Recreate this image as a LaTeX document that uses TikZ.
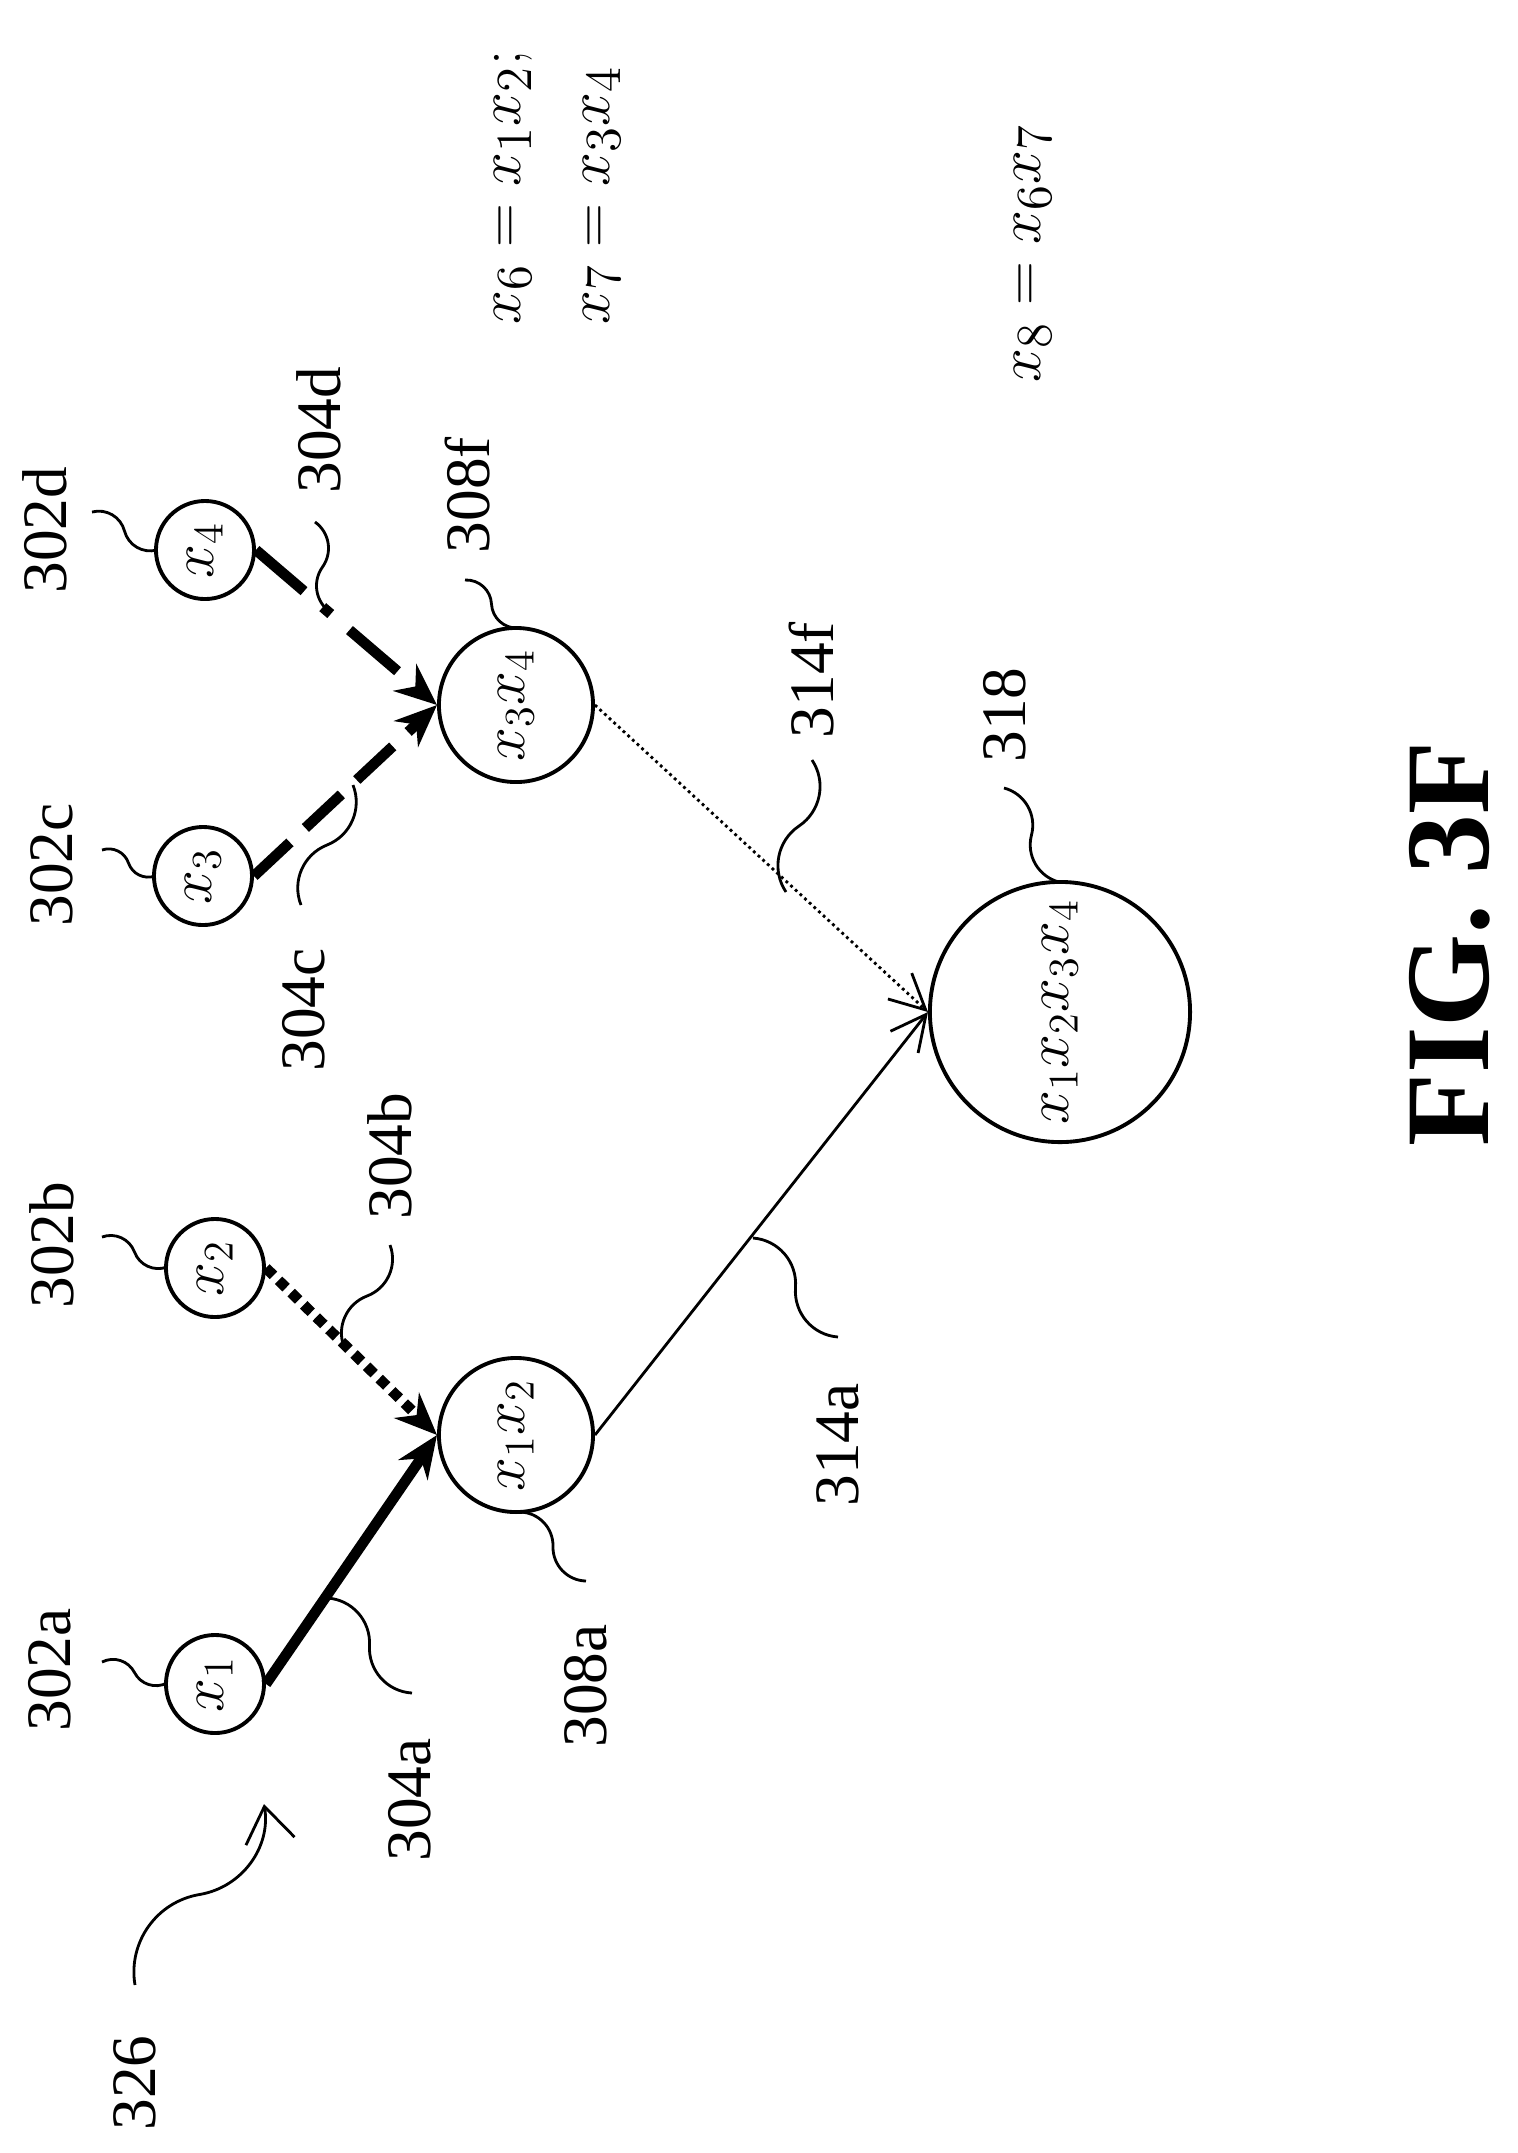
\documentclass[tikz,border=0pt]{standalone}
\usepackage{fontspec}
\setmainfont{Liberation Serif}
\usetikzlibrary{arrows.meta,calc}
\begin{document}
\begin{tikzpicture}[x=0.01cm,y=-0.01cm,
  lab/.style={rotate=90,font=\fontsize{18}{18}\selectfont,inner sep=0},
  nd/.style={draw,circle,line width=1.1pt,inner sep=0,font=\fontsize{18}{18}\selectfont},
  sm/.style={nd,minimum size=0.98cm},
  md/.style={nd,minimum size=1.54cm},
  lead/.style={line width=0.8pt},
  eq/.style={rotate=90,anchor=west,inner sep=0,font=\fontsize{19}{19}\selectfont},
  inedge/.style={line width=3pt,-{Stealth[length=12pt,width=10pt]}},
  outedge/.style={line width=0.8pt,-{Straight Barb[length=10pt,width=10pt]}}]
\useasboundingbox (0,0) rectangle (1518,2153);
\node[sm] (x1) at (215,1684) {\rotatebox{90}{$x_1$}};
\node[sm] (x2) at (215,1268) {\rotatebox{90}{$x_2$}};
\node[sm] (x3) at (203,876) {\rotatebox{90}{$x_3$}};
\node[sm] (x4) at (205,550) {\rotatebox{90}{$x_4$}};
\node[md] (x12) at (516,1435) {\rotatebox{90}{$x_1x_2$}};
\node[md] (x34) at (516,705) {\rotatebox{90}{$x_3x_4$}};
\node[nd,minimum size=2.6cm,font=\fontsize{18}{18}\selectfont] (big) at (1060,1012) {\rotatebox{90}{$x_1x_2x_3x_4$}};
\draw[inedge] (x1.east) -- (x12.west);
\draw[inedge,dotted] (x2.east) -- (x12.west);
\draw[inedge,dash pattern=on 14pt off 6pt] (x3.east) -- (x34.west);
\draw[inedge,dash pattern=on 18pt off 7pt on 3pt off 7pt] (x4.east) -- (x34.west);
\draw[outedge] (x12.east) -- (big.west);
\draw[outedge,densely dotted] (x34.east) -- (big.west);
% labels
\node[lab] (l302a) at (50,1670) {302a};
\node[lab] (l302b) at (52,1245) {302b};
\node[lab] (l302c) at (52,865) {302c};
\node[lab] (l302d) at (45,530) {302d};
\node[lab] (l304a) at (410,1800) {304a};
\node[lab] (l304b) at (390,1156) {304b};
\node[lab] (l304c) at (304,1010) {304c};
\node[lab] (l304d) at (319,430) {304d};
\node[lab] (l308a) at (586,1686) {308a};
\node[lab] (l308f) at (468,495) {308f};
\node[lab] (l314a) at (838,1445) {314a};
\node[lab] (l314f) at (812,680) {314f};
\node[lab] (l318) at (1005,715) {318};
\node[lab] (l326) at (135,2083) {326};
% leaders
\coordinate (a1) at (102,1662); \coordinate (a2) at (167,1683);
\coordinate (b1) at (102,1237); \coordinate (b2) at (167,1267);
\coordinate (c1) at (102,850); \coordinate (c2) at (155,876);
\coordinate (d1) at (92,512); \coordinate (d2) at (157,550);
\coordinate (e1) at (412,1693); \coordinate (e2) at (327,1598);
\coordinate (f1) at (390,1245); \coordinate (f2) at (344,1347);
\coordinate (g1) at (301,905); \coordinate (g2) at (353,785);
\coordinate (h1) at (315,522); \coordinate (h2) at (330,612);
\coordinate (i1) at (586,1581); \coordinate (i2) at (520,1512);
\coordinate (j1) at (465,580); \coordinate (j2) at (518,628);
\coordinate (k1) at (838,1337); \coordinate (k2) at (753,1238);
\coordinate (m1) at (812,760); \coordinate (m2) at (786,892);
\coordinate (n1) at (1004,788); \coordinate (n2) at (1059,882);
\foreach \p in {a,b,c,d,e,f,g,h,i,j,k,m,n}
  \draw[lead] (\p1) to[bend left=45] ($(\p1)!0.5!(\p2)$) to[bend right=45] (\p2);
\coordinate (s1) at (135,1985); \coordinate (s2) at (264,1804);
\draw[lead,-{Straight Barb[length=10pt,width=14pt]}] (s1) to[bend left=45] ($(s1)!0.5!(s2)$) to[bend right=45] (s2);
% equations
\node[eq] (e6) at (513,325) {$x_6 = x_1x_2;$};
\node[eq] (e7) at (602,325) {$x_7 = x_3x_4$};
\node[eq] (e8) at (1033,383) {$x_8 = x_6x_7$};
\node[rotate=90,anchor=base,font=\bfseries\fontsize{34}{34}\selectfont] (fig) at (1488,944) {FIG. 3F};
\end{tikzpicture}
\end{document}
